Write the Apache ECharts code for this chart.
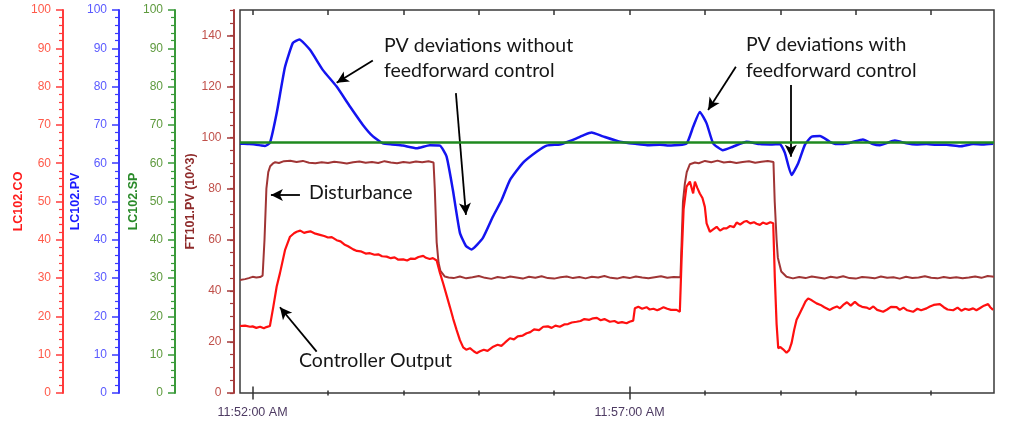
<!DOCTYPE html>
<html><head><meta charset="utf-8">
<script src="https://cdn.jsdelivr.net/npm/echarts@6/dist/echarts.min.js"></script>
<style>html,body{margin:0;padding:0;background:#fff}#c{width:1024px;height:424px}</style>
</head><body><div id="c"></div>
<script>
// x values: seconds after 11:52:00 AM
const xRange = [-10, 590];
const majorTimeTicks = [0, 300];
const minuteTicks = [0, 60, 120, 180, 240, 300, 360, 420, 480, 540];
const minorTimeTicks = [60, 120, 180, 240, 360, 420, 480, 540];

const axisNames = ['LC102.CO', 'LC102.PV', 'LC102.SP', 'FT101.PV (10^3)'];
const ftLabelTicks = [0, 20, 40, 60, 80, 100, 120, 140];

// LC102.SP (setpoint)
const spValues = [[-10, 65.4], [590, 65.4]];

// LC102.PV
const pvValues = [
  [-10, 65.1], [-4, 65.0], [2, 64.9], [7, 64.6], [9.9, 64.5], [13.8, 65.3], [19.2, 73.1], [25.8, 85.1],
  [32.1, 91.4], [37.2, 92.3], [45.7, 89.6], [56.0, 84.3], [66.9, 80.0], [77.5, 74.8], [87.8, 70.0],
  [95.8, 67.0], [103.7, 65.2], [111, 64.9], [119.6, 64.6], [130.5, 63.9], [141.1, 64.7], [149.1, 64.6],
  [154.4, 61.7], [159.4, 53.0], [165.0, 41.8], [169.8, 38.4], [174.3, 37.5], [183.3, 40.5], [191.2, 46.0],
  [198.2, 50.4], [204.8, 55.6], [215.1, 60.1], [226.0, 63.0], [234.0, 64.6], [244.5, 64.9], [251, 65.6],
  [257.8, 66.5], [264, 67.4], [269.8, 68.0], [278.8, 67.0], [292.3, 65.6], [305.6, 65.0], [314, 64.7],
  [324.1, 64.8], [333, 64.6], [345.3, 65.1], [350.6, 69.5], [355.9, 73.4], [361.3, 70.4], [366.5, 65.2],
  [374.2, 63.4], [382.2, 64.3], [393.1, 65.6], [403.7, 65.0], [412, 64.9], [419.6, 65.0], [423.6, 62.7],
  [428.9, 56.9], [434.2, 60.0], [439.5, 64.8], [444.8, 66.9], [451.5, 67.1], [459.4, 65.6], [464.7, 65.0],
  [475, 65.3], [485.7, 66.2], [493.6, 65.0], [499.2, 64.7], [511.1, 65.9], [520.4, 65.2], [528, 64.9],
  [536.3, 65.0], [544, 64.8], [552.2, 64.8], [562.8, 64.4], [573.4, 65.0], [581, 64.9], [589.3, 65.1]
];

// LC102.CO (controller output)
const coValues = [
  [-10, 17.5], [-6, 17.6], [-2, 17.3], [0, 17.4], [3, 17.0], [6, 17.3], [9, 16.9], [11, 17.2], [13.8, 17.5],
  [16.5, 22.5], [19.2, 27.8], [21.8, 31.3], [25.8, 37.3], [29.8, 40.8], [33, 41.7], [35.1, 42.1], [38, 42.4],
  [41, 41.8], [43, 42.0], [46, 42.2], [50, 41.6], [53.6, 41.3], [57, 41.0], [60, 40.6], [63, 40.7], [66.9, 39.9],
  [70, 39.6], [73, 38.8], [76, 38.3], [80.1, 37.5], [83, 37.1], [86, 37.0], [90, 36.4], [93.4, 36.5], [97, 36.1],
  [100, 36.2], [103, 35.7], [106.7, 35.6], [110, 35.2], [113, 35.4], [116, 34.8], [119.9, 34.9], [123, 34.6],
  [126, 35.1], [129, 35.0], [132, 35.5], [135.8, 35.8], [138, 35.3], [141, 35.0], [143.5, 35.2], [146.5, 34.6],
  [149, 31.5], [151.7, 28.6], [154.4, 25.5], [157, 22.5], [159.7, 19.3], [162.4, 16.4], [165, 13.8], [167.6, 11.9],
  [170, 11.3], [173, 11.7], [176, 10.9], [178.3, 10.4], [181, 10.9], [184, 11.3], [187, 11.0], [191.5, 12.1],
  [195, 12.6], [198, 12.3], [201, 13.2], [204.8, 14.3], [208, 14.0], [211, 14.8], [215, 15.0], [218.1, 15.6],
  [221, 15.9], [224, 16.6], [228, 16.4], [231.3, 17.3], [235, 17.4], [238, 17.0], [241, 17.6], [244.5, 17.3],
  [248, 17.9], [251, 18.0], [254, 18.4], [257.8, 18.6], [261, 18.8], [264, 19.3], [268, 19.1], [271, 19.5],
  [274, 19.6], [277, 19.0], [280, 19.3], [284.3, 18.6], [288, 18.8], [291, 18.3], [294, 18.5], [297.6, 18.2],
  [300, 18.6], [302.9, 18.9], [304.2, 22.1], [307, 22.5], [310, 22.0], [313.5, 22.4], [316, 21.8], [319, 22.0],
  [322, 21.6], [324.1, 21.9], [327, 22.4], [330, 22.0], [333, 21.7], [337.4, 21.7], [340, 21.2], [341.4, 35.0],
  [343, 48.0], [345.3, 53.9], [348, 55.2], [350.6, 52.1], [352, 55.2], [354, 53.5], [355.9, 52.1], [358, 50.9],
  [359.9, 48.6], [361.3, 44.3], [363.9, 42.1], [366, 42.6], [369.3, 43.4], [372, 42.4], [375, 43.0], [377.2, 43.0],
  [380, 43.6], [383, 43.3], [385.2, 44.5], [388, 44.0], [391, 44.7], [393.1, 44.9], [396, 44.3], [399, 44.6],
  [401, 44.2], [403.7, 43.9], [406, 44.5], [409, 44.1], [412, 44.6], [414.3, 44.3], [415.6, 30.0], [417, 18.0],
  [418.3, 11.7], [420, 12.0], [422.2, 11.4], [424.9, 10.5], [427, 11.2], [428.9, 13.0], [431, 16.5], [432.9, 19.1],
  [435, 20.5], [438.1, 22.6], [440, 23.9], [442.1, 24.7], [445, 24.2], [448.8, 23.4], [452, 23.0], [455, 22.4],
  [459.4, 21.7], [462, 22.2], [465, 22.6], [467.4, 22.1], [470, 23.0], [473, 23.7], [476, 22.8], [479.3, 23.8],
  [482, 23.0], [485, 22.5], [488.6, 22.3], [491, 21.9], [494, 22.6], [497, 21.7], [501.8, 21.2], [505, 21.8],
  [508, 22.5], [512.5, 22.4], [515, 21.7], [518, 22.3], [521, 21.6], [525.6, 21.2], [529, 22.0], [532, 21.6],
  [536.3, 22.1], [539, 22.6], [542, 23.0], [546.9, 23.2], [550, 22.4], [553, 21.8], [557.5, 21.6], [561, 22.3],
  [564, 21.5], [567, 22.0], [570, 21.7], [573.4, 22.1], [576, 21.6], [579, 22.2], [582, 22.8], [585.3, 23.2],
  [587, 22.4], [589.3, 21.7]
];

// FT101.PV (disturbance flow, x10^3)
const ftValues = [
  [-10, 44.3], [-6, 44.6], [-3, 45.0], [0, 45.5], [3, 45.2], [6, 45.4], [8, 46.0], [9.5, 60.0], [11, 80.0],
  [12.5, 86.5], [14, 88.8], [16, 89.8], [18, 90.4], [21, 90.1], [25, 90.8], [30, 91.0], [35, 90.5], [40, 90.9],
  [45, 90.2], [50, 90.0], [55, 90.4], [60, 90.1], [65, 90.6], [70, 90.3], [75, 89.9], [80, 90.4], [85, 90.7],
  [90, 90.2], [95, 90.5], [100, 90.1], [105, 90.8], [110, 90.3], [115, 90.0], [120, 90.5], [125, 90.2], [130, 90.7],
  [135, 90.4], [140, 90.8], [144, 90.3], [145, 80.0], [146.5, 59.0], [148, 51.0], [149.5, 47.8], [153, 45.6],
  [156, 45.2], [160, 45.0], [165, 45.6], [170, 44.9], [175, 45.3], [180, 45.8], [185, 45.1], [190, 44.7], [195, 45.4],
  [200, 45.0], [205, 45.6], [210, 45.2], [215, 44.8], [220, 45.5], [225, 45.1], [230, 45.7], [235, 45.0], [240, 44.8],
  [245, 45.3], [250, 45.6], [255, 45.0], [260, 45.4], [265, 44.9], [270, 45.5], [275, 45.2], [280, 45.8], [285, 45.1],
  [290, 44.8], [295, 45.4], [300, 45.0], [305, 45.6], [310, 45.2], [315, 44.9], [320, 45.3], [325, 45.7], [330, 45.1],
  [335, 45.4], [340.5, 45.3], [341.5, 60.0], [342.5, 75.0], [344, 82.0], [345.5, 86.5], [348, 89.6], [352, 90.3],
  [355, 90.0], [360, 90.9], [365, 90.4], [370, 91.0], [375, 90.3], [380, 90.6], [385, 90.1], [390, 90.5], [395, 90.8],
  [400, 90.2], [405, 90.6], [410, 90.9], [414.5, 90.5], [415.5, 75.0], [417, 60.0], [418, 53.0], [420.7, 47.6],
  [424.9, 45.5], [430, 44.9], [435, 45.4], [440, 45.0], [445, 45.6], [450, 45.2], [455, 44.8], [460, 45.5], [465, 45.1],
  [470, 45.7], [475, 45.0], [480, 44.8], [485, 45.4], [490, 45.2], [495, 44.9], [500, 45.6], [505, 45.1], [510, 45.3],
  [515, 44.8], [520, 45.5], [525, 45.0], [530, 45.2], [535, 45.7], [540, 45.1], [545, 44.9], [550, 45.4], [555, 45.0],
  [560, 45.3], [565, 44.9], [570, 45.2], [575, 45.6], [580, 45.1], [585, 45.8], [590, 45.5]
];

// annotation texts and arrows (arrows in time / LC102.CO-axis units)
const notes = [
  { text: 'PV deviations without', x: 384, y: 48 },
  { text: 'feedforward control', x: 384, y: 73 },
  { text: 'PV deviations with', x: 746, y: 47 },
  { text: 'feedforward control', x: 746, y: 73 },
  { text: 'Disturbance', x: 309, y: 195 },
  { text: 'Controller Output', x: 299, y: 363 }
];
const arrows = [
  [[95.7, 86.8], [66.9, 81.0]],
  [[161.8, 78.3], [169.8, 46.5]],
  [[37.7, 51.7], [14.6, 51.7]],
  [[51.0, 10.8], [21.8, 22.4]],
  [[384.6, 85.2], [362.5, 73.9]],
  [[428.3, 80.4], [428.3, 61.7]]
];

function pad(n) { return (n < 10 ? '0' : '') + n; }
function timeLabel(v) {
  const s = 11 * 3600 + 52 * 60 + Math.round(v);
  let h = Math.floor(s / 3600), m = Math.floor((s % 3600) / 60), sec = s % 60;
  const ampm = h >= 12 ? 'PM' : 'AM';
  h = h % 12 || 12;
  return h + ':' + pad(m) + ':' + pad(sec) + ' ' + ampm;
}

const chart = echarts.init(document.getElementById('c'), null, { renderer: 'canvas' });

function xAx(o) {
  return Object.assign({
    type: 'value', min: xRange[0], max: xRange[1], position: 'bottom',
    axisLine: { show: false, onZero: false }, splitLine: { show: false },
    axisLabel: { show: false }
  }, o);
}
const tickCol = '#333';
const xAxes = [
  xAx({
    axisTick: { show: true, customValues: majorTimeTicks, length: 6.5, lineStyle: { color: tickCol, width: 1.5 } },
    axisLabel: { show: true, customValues: majorTimeTicks, formatter: timeLabel, color: '#4d3a62', fontSize: 12.5, fontFamily: 'Liberation Sans, Arial', margin: 13 }
  }),
  xAx({ axisTick: { show: true, inside: true, customValues: majorTimeTicks, length: 6.5, lineStyle: { color: tickCol, width: 1.5 } } }),
  xAx({ axisTick: { show: true, customValues: minorTimeTicks, length: 2.5, lineStyle: { color: tickCol, width: 1.5 } } }),
  xAx({ axisTick: { show: true, inside: true, customValues: minorTimeTicks, length: 2.5, lineStyle: { color: tickCol, width: 1.5 } } }),
  xAx({ position: 'top', axisTick: { show: true, inside: true, customValues: minuteTicks, length: 5, lineStyle: { color: tickCol, width: 1.5 } } })
];

function yAx(name, offset, lineCol, labCol, nameCol, gap) {
  return {
    type: 'value', min: 0, max: 100, interval: 10, position: 'left', offset: offset,
    name: name, nameLocation: 'middle', nameGap: gap, nameMoveOverlap: false,
    nameTextStyle: { color: nameCol, fontWeight: 'bold', fontSize: 12.5, fontFamily: 'Liberation Sans, Arial' },
    axisLine: { show: true, onZero: false, lineStyle: { color: lineCol, width: 2 } },
    axisTick: { show: true, length: 7, lineStyle: { color: lineCol, width: 1.5 } },
    minorTick: { show: true, splitNumber: 5, length: 4, lineStyle: { color: lineCol, width: 1.2 } },
    axisLabel: { color: labCol, fontSize: 12, fontFamily: 'Liberation Sans, Arial', margin: 12 },
    splitLine: { show: false }
  };
}
const ftLine = '#a33a3a';
const yAxes = [
  yAx(axisNames[0], 177, '#ff3b3b', '#ff5a4a', '#ff1a1a', 37.5),
  yAx(axisNames[1], 121, '#3a3aff', '#5a5aff', '#1a1aff', 37),
  yAx(axisNames[2], 65, '#3a9a3a', '#5e9a3e', '#2a8a2a', 34.5),
  {
    type: 'value', min: 0, max: 150, interval: 20, position: 'left', offset: 6.5,
    name: axisNames[3], nameLocation: 'middle', nameGap: 36.5, nameMoveOverlap: false,
    nameTextStyle: { color: '#8e2a2a', fontWeight: 'bold', fontSize: 12.5, fontFamily: 'Liberation Sans, Arial' },
    axisLine: { show: true, onZero: false, lineStyle: { color: ftLine, width: 2 } },
    axisTick: { show: true, customValues: ftLabelTicks, length: 6.5, lineStyle: { color: ftLine, width: 1.5 } },
    axisLabel: { customValues: ftLabelTicks, color: '#c0504a', fontSize: 12, fontFamily: 'Liberation Sans, Arial', margin: 12 },
    splitLine: { show: false }
  },
  {
    type: 'value', min: 0, max: 150, interval: 5, position: 'left', offset: 6.5,
    axisLine: { show: false, onZero: false },
    axisTick: { show: true, length: 3.5, lineStyle: { color: ftLine, width: 1.2 } },
    axisLabel: { show: false }, splitLine: { show: false }
  }
];

const arrowLines = arrows.map(a => [
  { coord: a[0], symbol: 'none' },
  { coord: a[1], symbol: 'arrow', symbolSize: [9, 12] }
]);

chart.setOption({
  animation: false,
  backgroundColor: '#ffffff',
  grid: { left: 240, right: 30, top: 10, bottom: 31, show: true, borderColor: '#3a3a3a', borderWidth: 1.5, containLabel: false, outerBoundsMode: 'none' },
  xAxis: xAxes,
  yAxis: yAxes,
  series: [
    { type: 'line', name: 'FT101.PV', data: ftValues, xAxisIndex: 0, yAxisIndex: 3, showSymbol: false,
      lineStyle: { color: '#a03535', width: 2 }, z: 2 },
    { type: 'line', name: 'LC102.CO', data: coValues, xAxisIndex: 0, yAxisIndex: 0, showSymbol: false,
      lineStyle: { color: '#ff1010', width: 2.2 }, z: 3,
      markLine: { silent: true, animation: false, symbol: ['none', 'arrow'], label: { show: false },
        lineStyle: { color: '#000', width: 1.8, type: 'solid' }, emphasis: { disabled: true }, data: arrowLines } },
    { type: 'line', name: 'LC102.PV', data: pvValues, xAxisIndex: 0, yAxisIndex: 1, showSymbol: false, smooth: 0.15,
      lineStyle: { color: '#1414f0', width: 2.5 }, z: 4 },
    { type: 'line', name: 'LC102.SP', data: spValues, xAxisIndex: 0, yAxisIndex: 2, showSymbol: false,
      lineStyle: { color: '#1f8a1f', width: 2.5 }, z: 5 }
  ],
  graphic: notes.map(n => ({
    type: 'text', left: n.x, top: n.y - 12, z: 100,
    style: { text: n.text, fill: '#161616', font: '19.5px Lato, "Open Sans", sans-serif' }
  }))
});
</script></body></html>
